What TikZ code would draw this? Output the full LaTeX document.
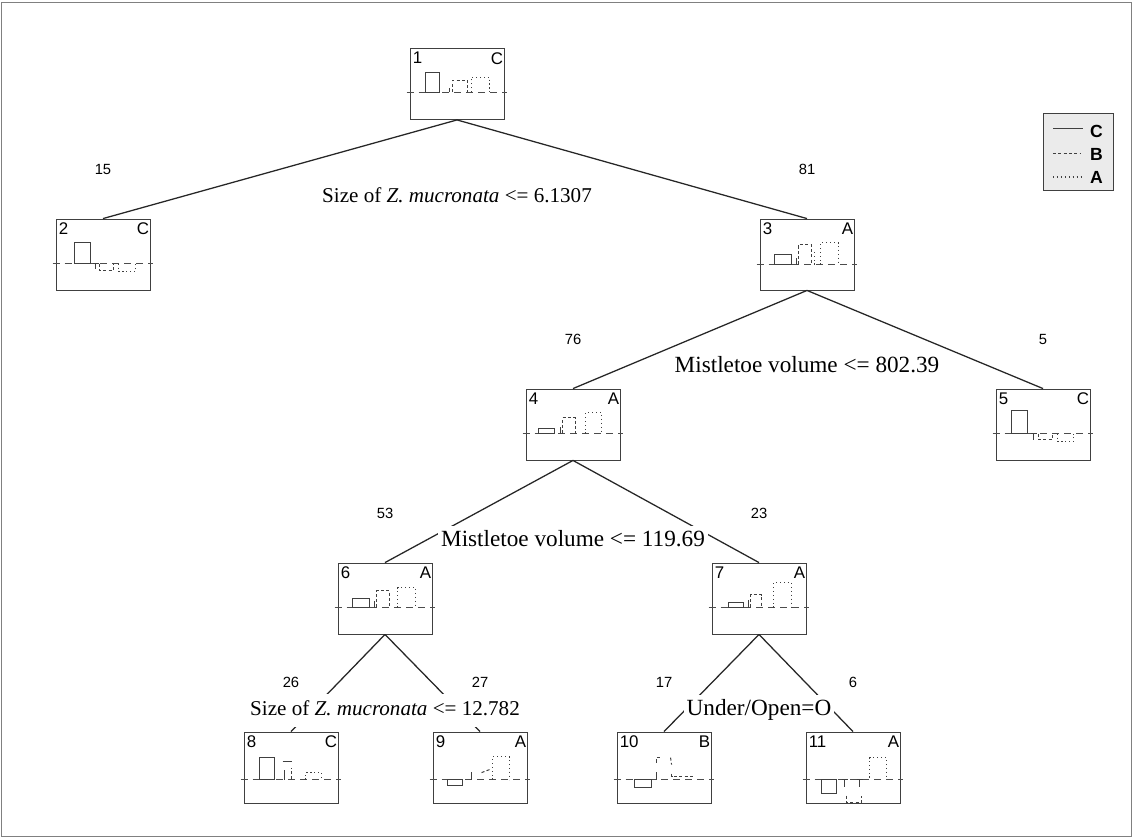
\documentclass[tikz,border=0pt]{standalone}
\usepackage{fontspec}
\setmainfont{Liberation Serif}
\setsansfont{Liberation Sans}
\usetikzlibrary{calc}

\tikzset{
  tbox/.style={draw=black!75, line width=0.6pt, minimum width=2.35cm, minimum height=1.775cm, inner sep=0pt},
  edge/.style={draw=black!85, line width=0.9pt},
  split/.style={fill=white, inner xsep=2pt, inner ysep=7.8pt, font=\fontsize{16.5}{18}\selectfont,
                text height=0.7em, text depth=0pt},
  splitnarrow/.style={split, inner ysep=8.2pt, font=\fontsize{15}{17}\selectfont},
  cnt/.style={inner sep=1pt, font=\sffamily\fontsize{10.5}{12}\selectfont, text height=0.72em, text depth=0pt},
  idtxt/.style={inner sep=0pt, font=\sffamily\fontsize{12}{14}\selectfont},
  base/.style={draw=black!70, line width=0.6pt, dash pattern=on 5pt off 3.5pt},
  barC/.style={draw=black!75, line width=0.7pt},
  barB/.style={draw=black!75, line width=0.7pt, dash pattern=on 2.2pt off 1.6pt},
  barA/.style={draw=black!75, line width=0.8pt, dash pattern=on 0.8pt off 2pt},
  legtxt/.style={inner sep=0pt, font=\sffamily\bfseries\fontsize{12.5}{14}\selectfont},
}

% box with its number, its class and the dashed baseline of the small class chart
\newcommand{\treebox}[6]{% name, centre, number, class, baseline offset, chart
  \node[tbox] (#1) at (#2) {};
  \node[idtxt, anchor=north west] at ($(#1.north west)+(3,4)$) {#3};
  \node[idtxt, anchor=north east] at ($(#1.north east)+(-1,4)$) {#4};
  \begin{scope}[shift={(#1.north west)}]
    \draw[base] (-3,#5) -- (97,#5);
    #6
  \end{scope}
}

\begin{document}
\begin{tikzpicture}[x=0.025cm, y=-0.025cm]
\useasboundingbox (0,0) rectangle (1133,838);
\fill[white] (0,0) rectangle (1133,838);
\draw[black!50, line width=0.7pt] (1.5,2.5) rectangle (1131.5,836.5);

% ---- nodes of the tree ----
\treebox{n1}{457,84}{1}{C}{44}{%
  \draw[barC] (16,44) rectangle (30,24);
  \draw[barC] (40,44) -- (40,40);
  \draw[barB] (43,44) -- (43,32) -- (58,32) -- (58,44);
  \draw[barA] (62,44) -- (62,29) -- (80,29) -- (80,44);}
\treebox{n2}{103,254.5}{2}{C}{45}{%
  \draw[barC] (19,45) rectangle (35,24);
  \draw[barC] (40,45) -- (40,50) (37,45) -- (43,45);
  \draw[barB] (44,45) -- (44,52) -- (58,52) -- (58,45);
  \draw[barA] (63,45) -- (63,53) -- (80,53) -- (80,45);}
\treebox{n3}{807,254.5}{3}{A}{46}{%
  \draw[barC] (15,46) rectangle (32,36);
  \draw[barC] (37,46) -- (37,39);
  \draw[barB] (39,46) -- (39,26) -- (52,26) -- (52,46);
  \draw[barA] (55,46) -- (55,32);
  \draw[barA] (61,46) -- (61,24) -- (79,24) -- (79,46);}
\treebox{n4}{573,424.5}{4}{A}{45}{%
  \draw[barC] (13,45) rectangle (29,40);
  \draw[barC] (35,45) -- (35,38);
  \draw[barB] (37,45) -- (37,29) -- (50,29) -- (50,45);
  \draw[barA] (60,45) -- (60,24) -- (76,24) -- (76,45);}
\treebox{n5}{1043,424.5}{5}{C}{45}{%
  \draw[barC] (16,45) rectangle (32,22);
  \draw[barC] (38,45) -- (38,51) (35,45) -- (41,45);
  \draw[barB] (43,45) -- (43,51) -- (57,51) -- (57,45);
  \draw[barA] (62,45) -- (62,53) -- (78,53) -- (78,45);}
\treebox{n6}{385,598.5}{6}{A}{45}{%
  \draw[barC] (15,45) rectangle (32,36);
  \draw[barC] (37,45) -- (37,38);
  \draw[barB] (39,45) -- (39,28) -- (52,28) -- (52,45);
  \draw[barA] (60,45) -- (60,25) -- (78,25) -- (78,45);}
\treebox{n7}{759,598.5}{7}{A}{45}{%
  \draw[barC] (17,45) rectangle (32,40);
  \draw[barC] (37,45) -- (37,37);
  \draw[barB] (39,45) -- (39,32) -- (50,32) -- (50,45);
  \draw[barA] (62,45) -- (62,20) -- (80,20) -- (80,45);}
\treebox{n8}{291,767.5}{8}{C}{48}{%
  \draw[barC] (16,48) rectangle (31,26);
  \draw[barC] (41,48) -- (41,38) (39,30) -- (48,30);
  \draw[barB] (48,48) -- (48,36);
  \draw[barA] (62,48) -- (62,41) -- (78,41) -- (78,48);}
\treebox{n9}{480,767.5}{9}{A}{48}{%
  \draw[barC] (15,48) rectangle (30,54);
  \draw[barC] (39,48) -- (39,40);
  \draw[barB] (49,41) -- (57,38);
  \draw[barA] (60,48) -- (60,25) -- (77,25) -- (77,48);}
\treebox{n10}{664,767.5}{10}{B}{48}{%
  \draw[barC] (18,48) rectangle (35,56);
  \draw[barC] (40,48) -- (40,40);
  \draw[barB] (40,31) -- (40,26) -- (45,26);
  \draw[barB] (54,26) -- (55,33);
  \draw[barB] (55,42) -- (55,45) -- (78,45);}
\treebox{n11}{853,767.5}{11}{A}{48}{%
  \draw[barC] (16,48) rectangle (31,62);
  \draw[barC] (36,48) -- (42,48) (39,48) -- (39,55);
  \draw[barC] (51,48) -- (57,48) (54,48) -- (54,55);
  \draw[barB] (41,64) -- (41,71) -- (56,71) -- (56,64);
  \draw[barA] (64,46) -- (64,26) -- (81,26) -- (81,46);}

% ---- branches ----
\draw[edge] (n1.south) -- (n2.north);
\draw[edge] (n1.south) -- (n3.north);
\draw[edge] (n3.south) -- (n4.north);
\draw[edge] (n3.south) -- (n5.north);
\draw[edge] (n4.south) -- (n6.north);
\draw[edge] (n4.south) -- (n7.north);
\draw[edge] (n6.south) -- (n8.north);
\draw[edge] (n6.south) -- (n9.north);
\draw[edge] (n7.south) -- (n10.north);
\draw[edge] (n7.south) -- (n11.north);

% ---- split rules ----
\node[splitnarrow] (s1) at ($(n1.south |- n2.north)+(0,-21)$) {Size of \textit{Z. mucronata} <= 6.1307};
\node[split] (s3) at ($(n3.south |- n4.north)+(0,-21)$) {Mistletoe volume <= 802.39};
\node[split] (s4) at ($(n4.south |- n6.north)+(0,-21)$) {Mistletoe volume <= 119.69};
\node[splitnarrow] (s6) at ($(n6.south |- n8.north)+(0,-21)$) {Size of \textit{Z. mucronata} <= 12.782};
\node[split] (s7) at ($(n7.south |- n10.north)+(0,-21)$) {Under/Open=O};

% ---- case counts above each branch ----
\node[cnt] at ($(n2.north)+(0,-49)$) {15};
\node[cnt] at ($(n3.north)+(0,-49)$) {81};
\node[cnt] at ($(n4.north)+(0,-49)$) {76};
\node[cnt] at ($(n5.north)+(0,-49)$) {5};
\node[cnt] at ($(n6.north)+(0,-49)$) {53};
\node[cnt] at ($(n7.north)+(0,-49)$) {23};
\node[cnt] at ($(n8.north)+(0,-49)$) {26};
\node[cnt] at ($(n9.north)+(0,-49)$) {27};
\node[cnt] at ($(n10.north)+(0,-49)$) {17};
\node[cnt] at ($(n11.north)+(0,-49)$) {6};

% ---- legend ----
\node[draw=black!75, fill=black!8, line width=0.6pt, minimum width=1.75cm, minimum height=1.925cm, inner sep=0pt] (leg) at (1078,151.5) {};
\draw[barC] (1053,128) -- (1083,128);
\draw[barB] (1053,153) -- (1080,153);
\draw[barA] (1053,177) -- (1083,177);
\node[legtxt] at (1096.5,131) {C};
\node[legtxt] at (1096.5,154) {B};
\node[legtxt] at (1096.5,177.5) {A};
\end{tikzpicture}
\end{document}
